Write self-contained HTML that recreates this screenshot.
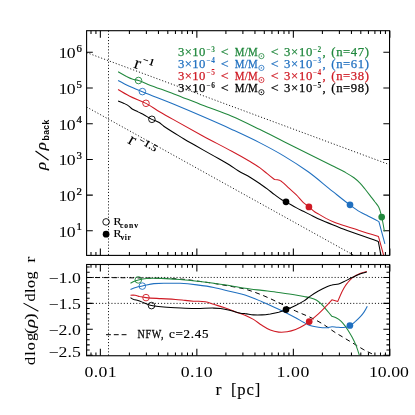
<!DOCTYPE html>
<html><head><meta charset="utf-8"><title>Density profiles</title>
<style>html,body{margin:0;padding:0;background:#fff;}body{width:415px;height:415px;overflow:hidden;font-family:"Liberation Serif",serif;}svg{display:block;will-change:transform;opacity:0.999;}</style>
</head><body>
<svg width="415" height="415" viewBox="0 0 415 415">
<rect width="415" height="415" fill="#fff"/>
<path d="M91.00 30.7v3.3M91.00 255.4v-3.3M95.93 30.7v3.3M95.93 255.4v-3.3M100.35 30.7v7.0M100.35 255.4v-7.0M129.40 30.7v3.3M129.40 255.4v-3.3M146.39 30.7v3.3M146.39 255.4v-3.3M158.45 30.7v3.3M158.45 255.4v-3.3M167.80 30.7v3.3M167.80 255.4v-3.3M175.44 30.7v3.3M175.44 255.4v-3.3M181.90 30.7v3.3M181.90 255.4v-3.3M187.50 30.7v3.3M187.50 255.4v-3.3M192.43 30.7v3.3M192.43 255.4v-3.3M196.85 30.7v7.0M196.85 255.4v-7.0M225.90 30.7v3.3M225.90 255.4v-3.3M242.89 30.7v3.3M242.89 255.4v-3.3M254.95 30.7v3.3M254.95 255.4v-3.3M264.30 30.7v3.3M264.30 255.4v-3.3M271.94 30.7v3.3M271.94 255.4v-3.3M278.40 30.7v3.3M278.40 255.4v-3.3M284.00 30.7v3.3M284.00 255.4v-3.3M288.93 30.7v3.3M288.93 255.4v-3.3M293.35 30.7v7.0M293.35 255.4v-7.0M322.40 30.7v3.3M322.40 255.4v-3.3M339.39 30.7v3.3M339.39 255.4v-3.3M351.45 30.7v3.3M351.45 255.4v-3.3M360.80 30.7v3.3M360.80 255.4v-3.3M368.44 30.7v3.3M368.44 255.4v-3.3M374.90 30.7v3.3M374.90 255.4v-3.3M380.50 30.7v3.3M380.50 255.4v-3.3M385.43 30.7v3.3M385.43 255.4v-3.3M389.85 30.7v7.0M389.85 255.4v-7.0M91.00 264.5v3.3M91.00 355.75v-3.3M95.93 264.5v3.3M95.93 355.75v-3.3M100.35 264.5v7.0M100.35 355.75v-7.0M129.40 264.5v3.3M129.40 355.75v-3.3M146.39 264.5v3.3M146.39 355.75v-3.3M158.45 264.5v3.3M158.45 355.75v-3.3M167.80 264.5v3.3M167.80 355.75v-3.3M175.44 264.5v3.3M175.44 355.75v-3.3M181.90 264.5v3.3M181.90 355.75v-3.3M187.50 264.5v3.3M187.50 355.75v-3.3M192.43 264.5v3.3M192.43 355.75v-3.3M196.85 264.5v7.0M196.85 355.75v-7.0M225.90 264.5v3.3M225.90 355.75v-3.3M242.89 264.5v3.3M242.89 355.75v-3.3M254.95 264.5v3.3M254.95 355.75v-3.3M264.30 264.5v3.3M264.30 355.75v-3.3M271.94 264.5v3.3M271.94 355.75v-3.3M278.40 264.5v3.3M278.40 355.75v-3.3M284.00 264.5v3.3M284.00 355.75v-3.3M288.93 264.5v3.3M288.93 355.75v-3.3M293.35 264.5v7.0M293.35 355.75v-7.0M322.40 264.5v3.3M322.40 355.75v-3.3M339.39 264.5v3.3M339.39 355.75v-3.3M351.45 264.5v3.3M351.45 355.75v-3.3M360.80 264.5v3.3M360.80 355.75v-3.3M368.44 264.5v3.3M368.44 355.75v-3.3M374.90 264.5v3.3M374.90 355.75v-3.3M380.50 264.5v3.3M380.50 355.75v-3.3M385.43 264.5v3.3M385.43 355.75v-3.3M389.85 264.5v7.0M389.85 355.75v-7.0M86.6 230.80h6.2M389.55 230.80h-6.2M86.6 195.10h6.2M389.55 195.10h-6.2M86.6 159.40h6.2M389.55 159.40h-6.2M86.6 123.70h6.2M389.55 123.70h-6.2M86.6 88.00h6.2M389.55 88.00h-6.2M86.6 52.30h6.2M389.55 52.30h-6.2M86.6 267.08h3.1M389.55 267.08h-3.1M86.6 272.26h3.1M389.55 272.26h-3.1M86.6 277.45h6.2M389.55 277.45h-6.2M86.6 282.63h3.1M389.55 282.63h-3.1M86.6 287.82h3.1M389.55 287.82h-3.1M86.6 293.00h3.1M389.55 293.00h-3.1M86.6 298.19h3.1M389.55 298.19h-3.1M86.6 303.38h6.2M389.55 303.38h-6.2M86.6 308.56h3.1M389.55 308.56h-3.1M86.6 313.75h3.1M389.55 313.75h-3.1M86.6 318.93h3.1M389.55 318.93h-3.1M86.6 324.12h3.1M389.55 324.12h-3.1M86.6 329.30h6.2M389.55 329.30h-6.2M86.6 334.49h3.1M389.55 334.49h-3.1M86.6 339.67h3.1M389.55 339.67h-3.1M86.6 344.85h3.1M389.55 344.85h-3.1M86.6 350.04h3.1M389.55 350.04h-3.1M86.6 355.23h6.2M389.55 355.23h-6.2" stroke="#000" stroke-width="1.05" fill="none"/>
<path d="M108.5 30.7V255.4M108.5 264.5V355.75" stroke="#000" stroke-width="0.9" stroke-dasharray="1.1 2.0" fill="none"/>
<path d="M86.6 52.6L389.55 164.68" stroke="#000" stroke-width="0.9" stroke-dasharray="1.1 2.0" fill="none"/>
<path d="M86.6 107.0L354.02 255.4" stroke="#000" stroke-width="0.9" stroke-dasharray="1.1 2.0" fill="none"/>
<path d="M86.6 277.45H389.55M86.6 303.38H389.55" stroke="#000" stroke-width="0.9" stroke-dasharray="1.1 2.0" fill="none"/>
<path d="M118.1 71.8C118.1 71.8 123.6 75.0 126.5 76.5C128.4 77.4 130.2 78.4 132.2 79.1C134.2 79.8 136.4 79.9 138.5 80.5C141.8 81.5 144.9 83.2 148.1 84.4C156.6 87.7 165.3 90.6 173.9 93.9C183.6 97.6 193.1 101.6 202.8 105.3C212.4 109.0 222.3 112.3 231.8 116.3C241.4 120.4 250.7 125.1 260.0 129.6C268.1 133.5 276.1 137.7 284.1 141.7C292.1 145.7 300.2 149.7 308.2 153.7C316.2 157.7 324.3 161.8 332.3 165.8C336.3 167.8 340.4 169.6 344.3 171.8C347.6 173.7 350.9 175.5 354.0 177.8C356.1 179.4 358.1 181.2 360.0 183.1C361.8 184.9 363.4 187.0 365.0 189.0C366.7 191.2 368.4 193.4 370.1 195.6C371.7 197.7 373.4 199.8 375.0 202.0C376.3 203.7 377.8 205.3 378.8 207.2C380.3 210.3 380.9 213.7 381.7 217.0C382.8 221.7 384.4 231.3 384.4 231.3" stroke="#21883d" stroke-width="1.06" fill="none" stroke-linejoin="round" stroke-linecap="butt" />
<path d="M118.1 80.5C118.1 80.5 125.5 84.5 129.3 86.3C133.6 88.3 138.0 90.0 142.4 91.8C152.9 96.1 163.5 100.0 173.9 104.3C183.6 108.3 193.2 112.4 202.8 116.6C212.5 120.8 222.2 125.0 231.8 129.4C241.3 133.8 250.7 138.1 260.0 142.9C268.2 147.1 276.2 151.4 284.1 156.1C292.3 161.0 300.4 166.2 308.2 171.8C316.5 177.8 324.2 184.7 332.3 191.1C338.1 195.7 343.8 200.4 349.7 204.8C353.1 207.3 356.4 209.8 360.0 211.9C362.6 213.4 365.3 214.6 368.0 216.0C371.6 217.9 378.9 221.6 378.9 221.6C378.9 221.6 384.9 243.9 384.9 243.9" stroke="#2070c0" stroke-width="1.06" fill="none" stroke-linejoin="round" stroke-linecap="butt" />
<path d="M118.1 89.5C118.1 89.5 125.5 94.0 129.3 96.0C134.7 98.8 140.6 100.6 146.0 103.4C150.7 105.9 155.0 109.0 159.5 111.7C164.3 114.5 169.1 117.2 173.9 119.9C183.5 125.3 193.1 130.7 202.8 136.0C212.4 141.2 222.2 146.1 231.8 151.3C237.9 154.6 244.0 158.0 250.0 161.5C251.9 162.6 253.8 163.8 255.7 165.0C257.2 165.9 258.6 166.9 260.0 167.9C262.5 169.7 264.8 171.8 267.2 173.7C269.6 175.6 274.5 179.5 274.5 179.5C274.5 179.5 277.9 179.6 279.5 180.2C280.3 180.5 281.0 181.1 281.7 181.6C284.3 183.6 286.5 185.9 288.9 188.1C291.3 190.3 293.8 192.3 296.1 194.6C298.7 197.1 300.8 200.1 303.4 202.6C305.1 204.2 307.1 205.4 308.9 206.9C310.9 208.6 312.7 210.5 314.9 212.0C316.5 213.1 318.3 213.9 320.0 214.9C322.0 216.1 324.0 217.3 326.0 218.4C328.7 219.8 331.5 221.2 334.3 222.3C339.4 224.3 344.8 225.7 350.0 227.4C352.8 228.3 355.7 229.4 358.5 230.3C365.1 232.5 378.5 236.6 378.5 236.6C378.5 236.6 383.6 255.2 383.6 255.2" stroke="#cf1a24" stroke-width="1.06" fill="none" stroke-linejoin="round" stroke-linecap="butt" />
<path d="M118.1 101.0C118.1 101.0 121.8 102.4 123.6 103.2C125.1 103.9 126.6 104.5 127.9 105.4C129.5 106.4 130.6 108.0 132.2 109.0C134.0 110.2 136.1 110.9 138.0 111.9C139.9 112.9 141.9 113.8 143.8 114.8C146.5 116.3 149.0 118.0 151.8 119.4C154.0 120.5 156.5 121.0 158.7 122.3C160.6 123.4 162.0 125.0 163.8 126.2C167.1 128.5 170.5 130.6 173.9 132.7C177.3 134.8 180.6 137.0 184.0 139.0C187.6 141.2 191.3 143.2 195.0 145.3C200.6 148.5 206.3 151.7 211.9 154.9C217.8 158.3 223.8 161.4 229.6 165.0C232.5 166.8 235.3 168.9 238.2 170.7C242.0 173.0 246.2 174.9 250.0 177.2C253.4 179.3 256.7 181.5 260.0 183.8C262.4 185.5 264.8 187.1 267.2 188.9C269.7 190.7 272.0 192.8 274.5 194.6C276.9 196.4 279.2 198.2 281.7 199.7C283.1 200.5 284.6 201.1 286.0 201.9C289.4 203.7 292.7 205.8 296.1 207.6C298.5 208.9 301.0 210.1 303.4 211.3C305.8 212.5 308.2 213.7 310.6 214.9C313.7 216.5 316.8 218.2 320.0 219.6C326.3 222.5 332.9 224.8 339.3 227.4C342.9 228.8 346.4 230.3 350.0 231.6C352.8 232.6 355.7 233.6 358.5 234.6C363.3 236.3 368.2 237.8 373.0 239.5C374.8 240.1 378.3 241.5 378.3 241.5C378.3 241.5 380.9 255.2 380.9 255.2" stroke="#000" stroke-width="1.06" fill="none" stroke-linejoin="round" stroke-linecap="butt" />
<path d="M86.6 277.5C86.6 277.5 108.9 277.6 120.0 277.7C128.7 277.8 137.3 277.9 146.0 278.0C152.3 278.1 158.7 278.2 165.0 278.4C171.7 278.6 178.4 278.8 185.0 279.4C189.0 279.8 192.9 280.5 196.9 281.0C202.5 281.8 208.1 282.5 213.7 283.4C219.3 284.3 225.0 285.3 230.6 286.3C235.4 287.2 240.3 287.8 245.0 289.1C250.8 290.7 256.4 292.8 261.9 295.0C267.6 297.3 273.1 300.0 278.7 302.6C284.4 305.3 289.9 308.3 295.6 311.0C301.5 313.7 307.6 315.9 313.4 318.8C316.5 320.4 319.6 322.1 322.6 323.9C326.9 326.5 330.8 329.7 335.0 332.4C337.4 333.9 339.8 335.3 342.2 336.7C344.6 338.2 347.1 339.6 349.5 341.1C351.9 342.5 354.3 344.0 356.7 345.4C359.1 346.9 361.4 348.4 363.9 349.8C366.2 351.1 368.7 352.2 371.1 353.4C372.3 354.0 374.8 355.1 374.8 355.1" stroke="#000" stroke-width="1.0" fill="none" stroke-linejoin="round" stroke-linecap="butt" stroke-dasharray="4.8 3.7"/>
<path d="M130.5 283.2C130.5 283.2 133.5 281.6 135.1 281.0C136.1 280.6 137.2 280.2 138.3 279.9C141.1 279.2 143.9 278.7 146.7 278.5C151.5 278.1 156.3 278.3 161.1 278.4C167.4 278.6 173.7 279.0 180.0 279.5C185.6 279.9 191.3 280.6 196.9 281.2C202.5 281.8 208.1 282.5 213.7 283.2C219.3 284.0 225.0 284.8 230.6 285.7C235.4 286.5 240.2 287.5 245.0 288.2C250.6 289.1 256.3 289.7 261.9 290.4C267.5 291.1 273.1 291.7 278.7 292.5C284.3 293.3 290.0 294.1 295.6 295.0C298.4 295.5 301.2 296.0 304.0 296.5C306.0 296.9 308.0 297.1 310.0 297.7C312.3 298.4 314.6 299.1 316.7 300.3C318.6 301.4 320.2 303.0 321.8 304.5C323.7 306.3 325.2 308.4 326.9 310.4C328.6 312.4 331.9 316.3 331.9 316.3C331.9 316.3 335.4 317.4 337.0 318.3C338.5 319.1 339.9 320.1 341.2 321.3C342.8 322.8 344.1 324.6 345.4 326.4C346.3 327.6 347.2 328.9 348.0 330.2C349.5 332.6 351.0 335.0 352.3 337.5C353.7 340.1 354.9 342.7 356.0 345.4C357.3 348.6 359.3 355.1 359.3 355.1" stroke="#21883d" stroke-width="1.06" fill="none" stroke-linejoin="round" stroke-linecap="butt" />
<path d="M130.5 289.4C130.5 289.4 134.5 287.8 136.6 287.2C138.5 286.7 140.4 286.5 142.3 286.1C146.2 285.3 150.0 284.1 153.9 283.6C158.7 283.0 163.6 283.2 168.4 283.2C172.3 283.2 176.1 283.1 180.0 283.3C185.7 283.6 191.3 284.2 196.9 284.9C202.5 285.6 208.1 286.3 213.7 287.4C219.4 288.5 225.0 290.2 230.6 291.6C235.4 292.8 240.3 293.5 245.0 295.0C250.8 296.8 256.3 299.3 261.9 301.7C267.6 304.1 273.2 306.7 278.7 309.3C284.4 312.0 290.0 314.8 295.6 317.8C298.4 319.3 301.2 321.0 304.0 322.5C306.0 323.6 307.9 324.9 310.0 325.6C312.7 326.5 315.6 326.8 318.4 327.2C321.2 327.6 324.1 328.0 326.9 327.8C328.6 327.7 330.2 326.8 331.9 326.7C333.6 326.6 335.3 327.1 337.0 327.2C339.2 327.4 341.5 327.8 343.7 327.5C345.9 327.2 348.1 326.6 350.0 325.6C352.1 324.5 353.7 322.8 355.5 321.3C357.3 319.7 359.0 318.1 360.6 316.3C361.8 315.0 363.0 313.6 364.0 312.1C365.3 310.2 367.3 306.2 367.3 306.2" stroke="#2070c0" stroke-width="1.06" fill="none" stroke-linejoin="round" stroke-linecap="butt" />
<path d="M130.5 295.2C130.5 295.2 133.6 295.0 135.1 295.2C136.6 295.4 138.0 296.2 139.5 296.6C141.6 297.1 143.8 297.4 146.0 297.6C151.0 298.2 156.1 298.3 161.1 298.6C165.9 298.9 170.8 299.1 175.6 299.5C178.7 299.7 181.9 300.1 185.0 300.4C187.8 300.7 190.7 301.0 193.5 301.2C197.4 301.5 201.4 301.0 205.3 301.7C208.2 302.2 210.9 303.4 213.7 304.3C217.1 305.4 220.5 306.4 223.9 307.6C227.9 309.0 231.8 310.5 235.7 311.9C238.8 313.0 242.0 313.9 245.0 315.2C247.9 316.4 250.7 317.8 253.4 319.4C256.4 321.2 259.0 323.5 261.9 325.3C264.6 327.0 267.3 328.9 270.3 330.1C273.0 331.2 275.8 331.8 278.7 332.1C281.5 332.4 284.4 332.2 287.2 331.8C290.1 331.4 292.9 330.6 295.6 329.6C298.5 328.5 301.3 326.9 304.0 325.3C305.8 324.2 307.4 322.9 309.1 321.6C312.3 319.1 315.4 316.5 318.4 313.8C321.4 311.1 324.1 308.2 326.9 305.3C328.6 303.5 331.9 299.8 331.9 299.8C331.9 299.8 337.8 301.4 337.8 301.4C337.8 301.4 339.5 297.2 340.4 295.2C341.4 292.9 342.5 290.7 343.7 288.5C344.7 286.7 345.8 285.0 347.1 283.4C348.7 281.4 350.2 279.4 352.2 277.8C354.7 275.8 357.6 274.5 360.6 273.3C362.6 272.5 366.8 271.6 366.8 271.6" stroke="#cf1a24" stroke-width="1.06" fill="none" stroke-linejoin="round" stroke-linecap="butt" />
<path d="M130.5 297.6C130.5 297.6 132.5 299.0 133.7 299.5C135.1 300.0 136.6 300.1 138.0 300.5C140.0 301.1 141.9 302.0 143.8 302.7C146.4 303.7 148.8 305.0 151.5 305.6C154.6 306.4 157.9 306.4 161.1 306.7C165.9 307.2 170.8 307.5 175.6 307.8C178.7 308.0 181.9 308.2 185.0 308.3C189.0 308.4 192.9 308.5 196.9 308.5C202.5 308.5 208.1 308.0 213.7 308.1C216.0 308.1 218.2 308.2 220.5 308.5C223.9 308.9 227.3 309.7 230.6 310.5C234.0 311.3 237.3 312.6 240.7 313.2C242.1 313.5 243.6 313.4 245.0 313.6C247.8 313.9 250.6 314.7 253.4 314.9C256.2 315.1 259.1 315.1 261.9 314.9C264.7 314.7 267.5 314.3 270.3 313.9C273.1 313.4 275.9 312.9 278.7 312.2C281.2 311.5 283.6 310.6 286.0 309.7C289.3 308.4 292.5 306.9 295.6 305.4C298.5 304.0 301.3 302.6 304.0 300.9C306.1 299.6 307.9 297.8 310.0 296.4C312.7 294.5 315.5 292.6 318.4 291.0C321.2 289.4 324.0 288.0 326.9 286.8C328.5 286.1 330.2 285.5 331.9 285.1C334.1 284.5 336.5 284.6 338.7 283.9C340.4 283.4 342.1 282.5 343.7 281.7C346.6 280.4 349.3 278.8 352.2 277.5C355.0 276.2 357.7 274.9 360.6 273.8C362.6 273.0 366.8 271.9 366.8 271.9" stroke="#000" stroke-width="1.06" fill="none" stroke-linejoin="round" stroke-linecap="butt" />
<circle cx="138.5" cy="80.5" r="3.3" fill="none" stroke="#21883d" stroke-width="0.9"/>
<circle cx="142.4" cy="91.6" r="3.3" fill="none" stroke="#2070c0" stroke-width="0.9"/>
<circle cx="146" cy="103.3" r="3.3" fill="none" stroke="#cf1a24" stroke-width="0.9"/>
<circle cx="151.9" cy="119.3" r="3.3" fill="none" stroke="#000" stroke-width="0.9"/>
<circle cx="286" cy="201.8" r="3.35" fill="#000"/>
<circle cx="308.9" cy="206.9" r="3.35" fill="#cf1a24"/>
<circle cx="350" cy="204.8" r="3.35" fill="#2070c0"/>
<circle cx="381.7" cy="217.1" r="3.35" fill="#21883d"/>
<circle cx="138.3" cy="279.9" r="3.3" fill="none" stroke="#21883d" stroke-width="0.9"/>
<circle cx="142.3" cy="286.1" r="3.3" fill="none" stroke="#2070c0" stroke-width="0.9"/>
<circle cx="146" cy="297.6" r="3.3" fill="none" stroke="#cf1a24" stroke-width="0.9"/>
<circle cx="151.5" cy="305.6" r="3.3" fill="none" stroke="#000" stroke-width="0.9"/>
<circle cx="286" cy="309.6" r="3.35" fill="#000"/>
<circle cx="309.2" cy="321.6" r="3.35" fill="#cf1a24"/>
<circle cx="349.9" cy="325.5" r="3.35" fill="#2070c0"/>
<circle cx="106.1" cy="221.9" r="3.3" fill="none" stroke="#000" stroke-width="0.9"/>
<circle cx="106.1" cy="234.2" r="3.35" fill="#000"/>
<rect x="86.6" y="30.7" width="302.95000000000005" height="224.70000000000002" fill="none" stroke="#000" stroke-width="1.1"/>
<rect x="86.6" y="264.5" width="302.95000000000005" height="91.25" fill="none" stroke="#000" stroke-width="1.1"/>
<text transform="translate(84.40,377.00) scale(1.25,1)" font-size="14.2" fill="#000" font-family="Liberation Serif, serif" textLength="25.76" lengthAdjust="spacing" >0.01</text>
<text transform="translate(180.80,377.00) scale(1.25,1)" font-size="14.2" fill="#000" font-family="Liberation Serif, serif" textLength="25.36" lengthAdjust="spacing" >0.10</text>
<text transform="translate(276.40,377.00) scale(1.25,1)" font-size="14.2" fill="#000" font-family="Liberation Serif, serif" textLength="26.40" lengthAdjust="spacing" >1.00</text>
<text transform="translate(369.00,377.00) scale(1.25,1)" font-size="14.2" fill="#000" font-family="Liberation Serif, serif" textLength="31.92" lengthAdjust="spacing" >10.00</text>
<text transform="translate(215.50,394.50) scale(1.15,1)" font-size="15.8" fill="#000" font-family="Liberation Serif, serif" stroke="#000" stroke-width="0.05" >r</text>
<text transform="translate(230.90,394.50)" font-size="16.6" fill="#000" font-family="Liberation Serif, serif" textLength="29.40" lengthAdjust="spacing" stroke="#000" stroke-width="0.1" >[pc]</text>
<text transform="translate(58.50,236.80) scale(1.25,1)" font-size="14.2" fill="#000" font-family="Liberation Serif, serif" textLength="13.76" lengthAdjust="spacing" >10</text>
<text transform="translate(76.40,230.40) scale(1.1,1)" font-size="9.8" fill="#000" font-family="Liberation Serif, serif" stroke="#000" stroke-width="0.25" >1</text>
<text transform="translate(58.50,201.10) scale(1.25,1)" font-size="14.2" fill="#000" font-family="Liberation Serif, serif" textLength="13.76" lengthAdjust="spacing" >10</text>
<text transform="translate(76.40,194.70) scale(1.1,1)" font-size="9.8" fill="#000" font-family="Liberation Serif, serif" stroke="#000" stroke-width="0.25" >2</text>
<text transform="translate(58.50,165.40) scale(1.25,1)" font-size="14.2" fill="#000" font-family="Liberation Serif, serif" textLength="13.76" lengthAdjust="spacing" >10</text>
<text transform="translate(76.40,159.00) scale(1.1,1)" font-size="9.8" fill="#000" font-family="Liberation Serif, serif" stroke="#000" stroke-width="0.25" >3</text>
<text transform="translate(58.50,129.70) scale(1.25,1)" font-size="14.2" fill="#000" font-family="Liberation Serif, serif" textLength="13.76" lengthAdjust="spacing" >10</text>
<text transform="translate(76.40,123.30) scale(1.1,1)" font-size="9.8" fill="#000" font-family="Liberation Serif, serif" stroke="#000" stroke-width="0.25" >4</text>
<text transform="translate(58.50,94.00) scale(1.25,1)" font-size="14.2" fill="#000" font-family="Liberation Serif, serif" textLength="13.76" lengthAdjust="spacing" >10</text>
<text transform="translate(76.40,87.60) scale(1.1,1)" font-size="9.8" fill="#000" font-family="Liberation Serif, serif" stroke="#000" stroke-width="0.25" >5</text>
<text transform="translate(58.50,58.30) scale(1.25,1)" font-size="14.2" fill="#000" font-family="Liberation Serif, serif" textLength="13.76" lengthAdjust="spacing" >10</text>
<text transform="translate(76.40,51.90) scale(1.1,1)" font-size="9.8" fill="#000" font-family="Liberation Serif, serif" stroke="#000" stroke-width="0.25" >6</text>
<text transform="translate(48.50,283.35) scale(1.25,1)" font-size="14.2" fill="#000" font-family="Liberation Serif, serif" textLength="25.96" lengthAdjust="spacing" >−1.0</text>
<text transform="translate(48.50,309.27) scale(1.25,1)" font-size="14.2" fill="#000" font-family="Liberation Serif, serif" textLength="25.96" lengthAdjust="spacing" >−1.5</text>
<text transform="translate(48.50,335.20) scale(1.25,1)" font-size="14.2" fill="#000" font-family="Liberation Serif, serif" textLength="25.96" lengthAdjust="spacing" >−2.0</text>
<text transform="translate(48.50,356.73) scale(1.25,1)" font-size="14.2" fill="#000" font-family="Liberation Serif, serif" textLength="25.96" lengthAdjust="spacing" >−2.5</text>
<text transform="translate(46.00,170.00) rotate(-90) scale(1.15,1)" font-size="14.6" fill="#000" font-family="Liberation Serif, serif" font-style="italic" stroke="#000" stroke-width="0.15" >ρ</text>
<path d="M48.6 160.2L35.5 151.0" stroke="#000" stroke-width="1.15" fill="none"/>
<text transform="translate(46.00,150.30) rotate(-90) scale(1.15,1)" font-size="14.6" fill="#000" font-family="Liberation Serif, serif" font-style="italic" stroke="#000" stroke-width="0.15" >ρ</text>
<text transform="translate(49.3,140.4) rotate(-90)" font-size="8.6" font-family="Liberation Sans, sans-serif" font-weight="bold" textLength="20.6" lengthAdjust="spacing">back</text>
<text transform="translate(35.00,365.00) rotate(-90) scale(1.2,1)" font-size="13.6" fill="#000" font-family="Liberation Serif, serif" textLength="26.75" lengthAdjust="spacing" stroke="#000" stroke-width="0.05" >dlog</text>
<text transform="translate(34.60,334.00) rotate(-90) scale(1.2,1)" font-size="15.4" fill="#000" font-family="Liberation Serif, serif" stroke="#000" stroke-width="0.05" >(</text>
<text transform="translate(35.00,327.70) rotate(-90) scale(1.2,1)" font-size="15.2" fill="#000" font-family="Liberation Serif, serif" font-style="italic" stroke="#000" stroke-width="0.1" >ρ</text>
<text transform="translate(34.60,319.60) rotate(-90) scale(1.2,1)" font-size="15.4" fill="#000" font-family="Liberation Serif, serif" stroke="#000" stroke-width="0.05" >)</text>
<path d="M38.4 311.3L23.5 303.1" stroke="#000" stroke-width="1.05" fill="none"/>
<text transform="translate(35.00,301.40) rotate(-90) scale(1.2,1)" font-size="13.6" fill="#000" font-family="Liberation Serif, serif" textLength="25.00" lengthAdjust="spacing" stroke="#000" stroke-width="0.05" >dlog</text>
<text transform="translate(35.00,262.50) rotate(-90) scale(1.3,1)" font-size="13.6" fill="#000" font-family="Liberation Serif, serif" stroke="#000" stroke-width="0.05" >r</text>
<text transform="translate(177.90,55.80)" font-size="12.7" fill="#21883d" font-family="Liberation Serif, serif" textLength="27.40" lengthAdjust="spacing" stroke="#21883d" stroke-width="0.25" >3×10</text>
<text transform="translate(206.30,51.50)" font-size="7.4" fill="#21883d" font-family="Liberation Serif, serif" textLength="8.60" lengthAdjust="spacing" font-weight="bold" >−3</text>
<text transform="translate(220.80,55.80) scale(1.1,1)" font-size="12.7" fill="#21883d" font-family="Liberation Serif, serif" stroke="#21883d" stroke-width="0.25" >&lt;</text>
<text transform="translate(234.80,55.80) scale(0.86,1)" font-size="12.7" fill="#21883d" font-family="Liberation Serif, serif" textLength="26.74" lengthAdjust="spacing" stroke="#21883d" stroke-width="0.25" >M/M</text>
<circle cx="261.4" cy="56.1" r="2.6" fill="none" stroke="#21883d" stroke-width="0.8"/><circle cx="261.4" cy="56.1" r="0.7" fill="#21883d"/>
<text transform="translate(270.80,55.80) scale(1.1,1)" font-size="12.7" fill="#21883d" font-family="Liberation Serif, serif" stroke="#21883d" stroke-width="0.25" >&lt;</text>
<text transform="translate(284.10,55.80)" font-size="12.7" fill="#21883d" font-family="Liberation Serif, serif" textLength="28.20" lengthAdjust="spacing" stroke="#21883d" stroke-width="0.25" >3×10</text>
<text transform="translate(312.70,51.50)" font-size="7.4" fill="#21883d" font-family="Liberation Serif, serif" textLength="8.60" lengthAdjust="spacing" font-weight="bold" >−2</text>
<text transform="translate(322.60,55.80)" font-size="12.7" fill="#21883d" font-family="Liberation Serif, serif" stroke="#21883d" stroke-width="0.25" >,</text>
<text transform="translate(331.30,55.80)" font-size="12.7" fill="#21883d" font-family="Liberation Serif, serif" textLength="37.70" lengthAdjust="spacing" stroke="#21883d" stroke-width="0.25" >(n=47)</text>
<text transform="translate(177.90,67.60)" font-size="12.7" fill="#2070c0" font-family="Liberation Serif, serif" textLength="27.40" lengthAdjust="spacing" stroke="#2070c0" stroke-width="0.25" >3×10</text>
<text transform="translate(206.30,63.30)" font-size="7.4" fill="#2070c0" font-family="Liberation Serif, serif" textLength="8.60" lengthAdjust="spacing" font-weight="bold" >−4</text>
<text transform="translate(220.80,67.60) scale(1.1,1)" font-size="12.7" fill="#2070c0" font-family="Liberation Serif, serif" stroke="#2070c0" stroke-width="0.25" >&lt;</text>
<text transform="translate(234.80,67.60) scale(0.86,1)" font-size="12.7" fill="#2070c0" font-family="Liberation Serif, serif" textLength="26.74" lengthAdjust="spacing" stroke="#2070c0" stroke-width="0.25" >M/M</text>
<circle cx="261.4" cy="67.9" r="2.6" fill="none" stroke="#2070c0" stroke-width="0.8"/><circle cx="261.4" cy="67.9" r="0.7" fill="#2070c0"/>
<text transform="translate(270.80,67.60) scale(1.1,1)" font-size="12.7" fill="#2070c0" font-family="Liberation Serif, serif" stroke="#2070c0" stroke-width="0.25" >&lt;</text>
<text transform="translate(284.10,67.60)" font-size="12.7" fill="#2070c0" font-family="Liberation Serif, serif" textLength="28.20" lengthAdjust="spacing" stroke="#2070c0" stroke-width="0.25" >3×10</text>
<text transform="translate(312.70,63.30)" font-size="7.4" fill="#2070c0" font-family="Liberation Serif, serif" textLength="8.60" lengthAdjust="spacing" font-weight="bold" >−3</text>
<text transform="translate(322.60,67.60)" font-size="12.7" fill="#2070c0" font-family="Liberation Serif, serif" stroke="#2070c0" stroke-width="0.25" >,</text>
<text transform="translate(331.30,67.60)" font-size="12.7" fill="#2070c0" font-family="Liberation Serif, serif" textLength="37.70" lengthAdjust="spacing" stroke="#2070c0" stroke-width="0.25" >(n=61)</text>
<text transform="translate(177.90,79.70)" font-size="12.7" fill="#cf1a24" font-family="Liberation Serif, serif" textLength="27.40" lengthAdjust="spacing" stroke="#cf1a24" stroke-width="0.25" >3×10</text>
<text transform="translate(206.30,75.40)" font-size="7.4" fill="#cf1a24" font-family="Liberation Serif, serif" textLength="8.60" lengthAdjust="spacing" font-weight="bold" >−5</text>
<text transform="translate(220.80,79.70) scale(1.1,1)" font-size="12.7" fill="#cf1a24" font-family="Liberation Serif, serif" stroke="#cf1a24" stroke-width="0.25" >&lt;</text>
<text transform="translate(234.80,79.70) scale(0.86,1)" font-size="12.7" fill="#cf1a24" font-family="Liberation Serif, serif" textLength="26.74" lengthAdjust="spacing" stroke="#cf1a24" stroke-width="0.25" >M/M</text>
<circle cx="261.4" cy="80.0" r="2.6" fill="none" stroke="#cf1a24" stroke-width="0.8"/><circle cx="261.4" cy="80.0" r="0.7" fill="#cf1a24"/>
<text transform="translate(270.80,79.70) scale(1.1,1)" font-size="12.7" fill="#cf1a24" font-family="Liberation Serif, serif" stroke="#cf1a24" stroke-width="0.25" >&lt;</text>
<text transform="translate(284.10,79.70)" font-size="12.7" fill="#cf1a24" font-family="Liberation Serif, serif" textLength="28.20" lengthAdjust="spacing" stroke="#cf1a24" stroke-width="0.25" >3×10</text>
<text transform="translate(312.70,75.40)" font-size="7.4" fill="#cf1a24" font-family="Liberation Serif, serif" textLength="8.60" lengthAdjust="spacing" font-weight="bold" >−4</text>
<text transform="translate(322.60,79.70)" font-size="12.7" fill="#cf1a24" font-family="Liberation Serif, serif" stroke="#cf1a24" stroke-width="0.25" >,</text>
<text transform="translate(331.30,79.70)" font-size="12.7" fill="#cf1a24" font-family="Liberation Serif, serif" textLength="37.70" lengthAdjust="spacing" stroke="#cf1a24" stroke-width="0.25" >(n=38)</text>
<text transform="translate(177.90,91.90)" font-size="12.7" fill="#000" font-family="Liberation Serif, serif" textLength="27.40" lengthAdjust="spacing" stroke="#000" stroke-width="0.25" >3×10</text>
<text transform="translate(206.30,87.60)" font-size="7.4" fill="#000" font-family="Liberation Serif, serif" textLength="8.60" lengthAdjust="spacing" font-weight="bold" >−6</text>
<text transform="translate(220.80,91.90) scale(1.1,1)" font-size="12.7" fill="#000" font-family="Liberation Serif, serif" stroke="#000" stroke-width="0.25" >&lt;</text>
<text transform="translate(234.80,91.90) scale(0.86,1)" font-size="12.7" fill="#000" font-family="Liberation Serif, serif" textLength="26.74" lengthAdjust="spacing" stroke="#000" stroke-width="0.25" >M/M</text>
<circle cx="261.4" cy="92.2" r="2.6" fill="none" stroke="#000" stroke-width="0.8"/><circle cx="261.4" cy="92.2" r="0.7" fill="#000"/>
<text transform="translate(270.80,91.90) scale(1.1,1)" font-size="12.7" fill="#000" font-family="Liberation Serif, serif" stroke="#000" stroke-width="0.25" >&lt;</text>
<text transform="translate(284.10,91.90)" font-size="12.7" fill="#000" font-family="Liberation Serif, serif" textLength="28.20" lengthAdjust="spacing" stroke="#000" stroke-width="0.25" >3×10</text>
<text transform="translate(312.70,87.60)" font-size="7.4" fill="#000" font-family="Liberation Serif, serif" textLength="8.60" lengthAdjust="spacing" font-weight="bold" >−5</text>
<text transform="translate(322.60,91.90)" font-size="12.7" fill="#000" font-family="Liberation Serif, serif" stroke="#000" stroke-width="0.25" >,</text>
<text transform="translate(331.30,91.90)" font-size="12.7" fill="#000" font-family="Liberation Serif, serif" textLength="37.70" lengthAdjust="spacing" stroke="#000" stroke-width="0.25" >(n=98)</text>
<g transform="translate(133.0,67.4) rotate(18)">
<text transform="translate(0.00,0.00) scale(1.08,1)" font-size="17.5" fill="#000" font-family="Liberation Serif, serif" stroke="#000" stroke-width="0.1" >r</text>
<text transform="translate(7.10,-7.50)" font-size="10.2" fill="#000" font-family="Liberation Serif, serif" textLength="11.50" lengthAdjust="spacing" font-weight="bold" >−1</text>
</g>
<g transform="translate(126.9,142.8) rotate(30)">
<text transform="translate(0.00,0.00) scale(1.08,1)" font-size="17.5" fill="#000" font-family="Liberation Serif, serif" stroke="#000" stroke-width="0.1" >r</text>
<text transform="translate(9.30,-6.00)" font-size="10.2" fill="#000" font-family="Liberation Serif, serif" textLength="19.50" lengthAdjust="spacing" font-weight="bold" >−1.5</text>
</g>
<text transform="translate(113.60,225.00) scale(1.05,1)" font-size="11.4" fill="#000" font-family="Liberation Serif, serif" stroke="#000" stroke-width="0.15" >R</text>
<text transform="translate(120.00,227.50)" font-size="7.6" fill="#000" font-family="Liberation Serif, serif" textLength="18.00" lengthAdjust="spacing" font-weight="bold" stroke="#000" stroke-width="0.1" >conv</text>
<text transform="translate(113.60,237.20) scale(1.05,1)" font-size="11.4" fill="#000" font-family="Liberation Serif, serif" stroke="#000" stroke-width="0.15" >R</text>
<text transform="translate(120.40,239.70)" font-size="7.6" fill="#000" font-family="Liberation Serif, serif" textLength="10.60" lengthAdjust="spacing" font-weight="bold" stroke="#000" stroke-width="0.1" >vir</text>
<path d="M106 334.7H127" stroke="#000" stroke-width="1.0" stroke-dasharray="4.9 2.9" fill="none"/>
<text transform="translate(137.40,337.80) scale(0.87,1)" font-size="11.6" fill="#000" font-family="Liberation Serif, serif" textLength="30.11" lengthAdjust="spacing" stroke="#000" stroke-width="0.25" >NFW,</text>
<text transform="translate(168.90,337.80) scale(1.12,1)" font-size="11.6" fill="#000" font-family="Liberation Serif, serif" textLength="35.36" lengthAdjust="spacing" stroke="#000" stroke-width="0.2" >c=2.45</text>
</svg>
</body></html>
